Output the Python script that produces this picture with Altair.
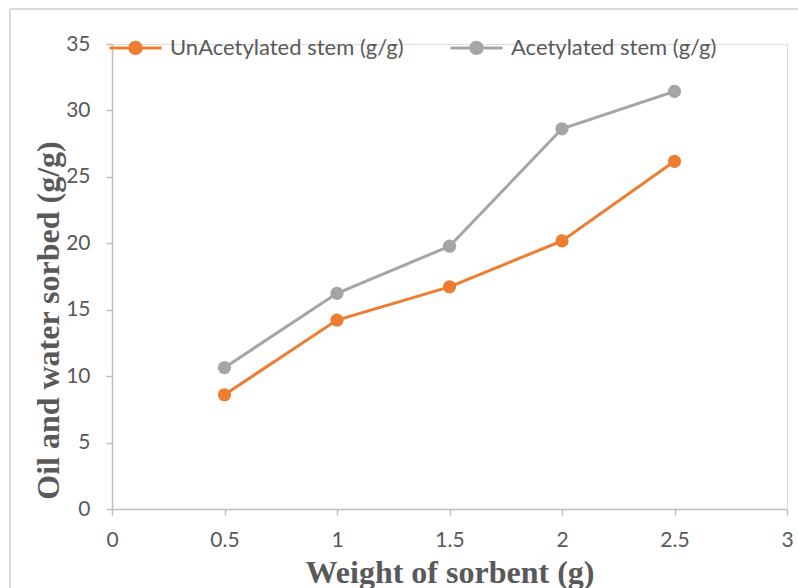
import altair as alt
import pandas as pd

weights = [0.5, 1.0, 1.5, 2.0, 2.5]
unacetylated = [8.6, 14.22, 16.72, 20.18, 26.17]
acetylated = [10.64, 16.23, 19.78, 28.62, 31.43]
series_names = ["UnAcetylated stem (g/g)", "Acetylated stem (g/g)"]
series_colors = ["#ED7D31", "#A5A5A5"]
x_ticks = [0, 0.5, 1, 1.5, 2, 2.5, 3]
y_ticks = [0, 5, 10, 15, 20, 25, 30, 35]

rows = []
for w, v in zip(weights, unacetylated):
    rows.append({"w": w, "v": v, "s": series_names[0]})
for w, v in zip(weights, acetylated):
    rows.append({"w": w, "v": v, "s": series_names[1]})
df = pd.DataFrame(rows)

label_color = "#595959"
axis_color = "#BFBFBF"

x_enc = alt.X("w:Q",
              scale=alt.Scale(domain=[0, 3], nice=False, zero=True),
              axis=alt.Axis(values=x_ticks, format="~g", grid=False,
                            domainColor=axis_color, domainWidth=1.5,
                            tickColor=axis_color, tickSize=6, tickWidth=1.5,
                            labelColor=label_color, labelFont="Lato", labelFontSize=21,
                            labelPadding=14, labelFlush=False,
                            title="Weight of sorbent (g)",
                            titleFont="Liberation Serif", titleFontSize=32,
                            titleFontWeight="bold", titleColor=label_color,
                            titleBaseline="alphabetic", titleY=73))
y_enc = alt.Y("v:Q",
              scale=alt.Scale(domain=[0, 35], nice=False),
              axis=alt.Axis(values=y_ticks, grid=False,
                            domainColor=axis_color, domainWidth=1.5,
                            tickColor=axis_color, tickSize=6, tickWidth=1.5,
                            labelColor=label_color, labelFont="Lato", labelFontSize=21,
                            labelPadding=16, labelFlush=False,
                            title="Oil and water sorbed (g/g)",
                            titleFont="Liberation Serif", titleFontSize=32,
                            titleFontWeight="bold", titleColor=label_color,
                            titleAngle=-90, titleBaseline="middle",
                            titleX=-64, titleY=276, titleAnchor="middle", titleAlign="center"))

color_enc = alt.Color("s:N",
                      scale=alt.Scale(domain=series_names, range=series_colors),
                      sort=series_names,
                      legend=alt.Legend(title=None, orient="none", direction="horizontal",
                                        legendX=-4, legendY=-24,
                                        symbolType="M-1,0H1M0.22,0A0.22,0.22,0,1,1,-0.22,0A0.22,0.22,0,1,1,0.22,0Z",
                                        symbolSize=2704, symbolStrokeWidth=3,
                                        labelFont="Lato", labelFontSize=22, labelColor=label_color,
                                        labelOffset=7, columnPadding=40, labelLimit=400))

lines = alt.Chart(df).mark_line(strokeWidth=3).encode(x=x_enc, y=y_enc, color=color_enc, detail="s:N")
points = alt.Chart(df).mark_point(filled=True, size=175, opacity=1).encode(x=x_enc, y=y_enc, color=color_enc)

border_top = alt.Chart(df).mark_rule(color="#D9D9D9", strokeWidth=1.5).encode(
    x=alt.value(-102), x2=alt.value(700), y=alt.value(-35))
border_left = alt.Chart(df).mark_rule(color="#D9D9D9", strokeWidth=1.5).encode(
    x=alt.value(-102), y=alt.value(-35), y2=alt.value(600))

chart = alt.layer(border_top, border_left, lines, points).properties(
    width=675, height=465,
    autosize=alt.AutoSizeParams(type="none"),
    padding={"left": 112, "top": 44, "right": 11, "bottom": 79},
).configure_view(stroke=None).configure(background="white")

chart.save("out.html", embed_options={"renderer": "svg", "actions": False})
